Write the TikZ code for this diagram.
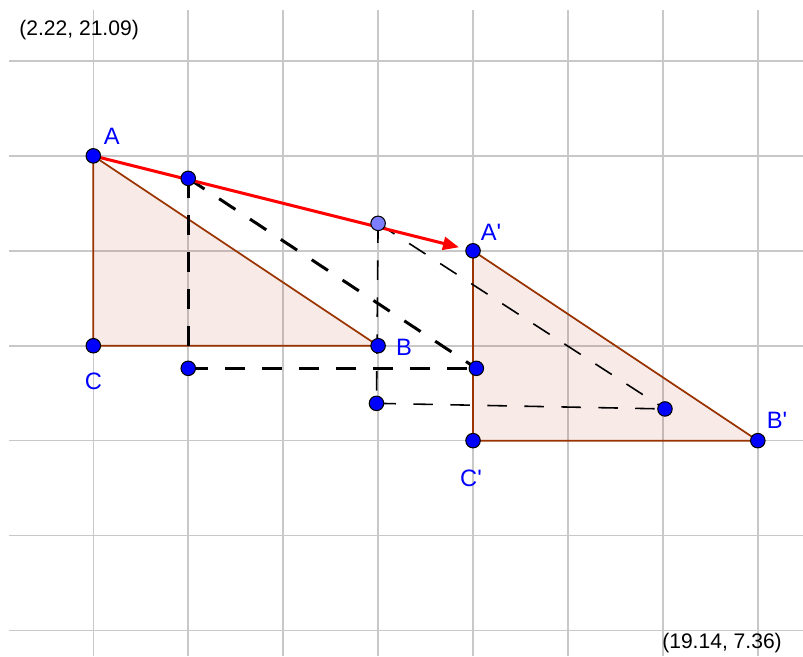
\documentclass[tikz,border=0pt]{standalone}
\usepackage{fontspec}
\setmainfont{Liberation Sans}
\usetikzlibrary{arrows.meta}
\definecolor{gridgray}{RGB}{200,200,200}
\definecolor{ggbbrown}{RGB}{153,51,0}
\definecolor{polyfill}{RGB}{180,60,40}
\definecolor{ggbblue}{RGB}{0,0,255}
\definecolor{ggblilac}{RGB}{125,125,255}
\definecolor{vecred}{RGB}{255,0,0}

\begin{document}
\begin{tikzpicture}[x=1.9cm, y=1.9cm,
  pt/.style={circle, draw=black, line width=0.6pt, fill=ggbblue, inner sep=0pt, minimum size=0.29cm},
  lbl/.style={text=ggbblue, font=\fontsize{13.5}{16}\selectfont},
  tri/.style={draw=ggbbrown, line width=1pt, fill=polyfill, fill opacity=0.11},
  thickdash/.style={black, line width=1.7pt, dash pattern=on 0.39cm off 0.35cm},
  thindash/.style={black, line width=0.9pt, dash pattern=on 0.39cm off 0.35cm},
  vec/.style={vecred, line width=1.7pt, -{Triangle[length=0.32cm, width=0.26cm]}, shorten >=0.29cm},
  corner/.style={font=\fontsize{12}{14}\selectfont}]
\useasboundingbox (-0.983,-3.269) rectangle (7.476,3.642);

% Grid
\foreach \gx in {0,...,7}
  \draw[gridgray, line width=0.9pt] (\gx,-3.269) -- (\gx,3.536);
\foreach \gy in {-3,...,3}
  \draw[gridgray, line width=0.9pt] (-0.888,\gy) -- (7.476,\gy);

% Points
\coordinate (A) at (0,2);
\coordinate (B) at (3,0);
\coordinate (C) at (0,0);
\coordinate (Ap) at (4,1);
\coordinate (Bp) at (7,-1);
\coordinate (Cp) at (4,-1);
\coordinate (P1) at (1,1.763);
\coordinate (Q1) at (1,-0.238);
\coordinate (R1) at (4.035,-0.238);
\coordinate (P2) at (3,1.289);
\coordinate (Q2) at (2.983,-0.607);
\coordinate (R2) at (6.022,-0.666);

% Triangles
\draw[tri] (A) -- (B) -- (C) -- cycle;
\draw[tri] (Ap) -- (Bp) -- (Cp) -- cycle;

% Intermediate positions
\draw[thickdash] (P1) -- (Q1);
\draw[thickdash] (Q1) -- (R1);
\draw[thickdash] (P1) -- (R1);
\draw[thindash] (P2) -- (Q2);
\draw[thindash] (Q2) -- (R2);
\draw[thindash] (P2) -- (R2);

% Translation vector
\draw[vec] (A) -- (Ap);

\node[pt] (dotA) at (A) {};
\node[pt] (dotB) at (B) {};
\node[pt] (dotC) at (C) {};
\node[pt] (dotAp) at (Ap) {};
\node[pt] (dotBp) at (Bp) {};
\node[pt] (dotCp) at (Cp) {};
\node[pt] (dotP1) at (P1) {};
\node[pt] (dotQ1) at (Q1) {};
\node[pt] (dotR1) at (R1) {};
\node[pt, fill=ggblilac] (dotP2) at (P2) {};
\node[pt] (dotQ2) at (Q2) {};
\node[pt] (dotR2) at (R2) {};

% Labels
\node[lbl] (labA) at (0.194,2.203) {A};
\node[lbl] (labB) at (3.273,-0.014) {B};
\node[lbl] (labC) at (0.002,-0.377) {C};
\node[lbl] (labAp) at (4.189,1.198) {A\textquotesingle};
\node[lbl] (labBp) at (7.202,-0.790) {B\textquotesingle};
\node[lbl] (labCp) at (3.979,-1.394) {C\textquotesingle};

\node[corner] (topleft) at (-0.150,3.326) {(2.22, 21.09)};
\node[corner] (botright) at (6.623,-3.132) {(19.14, 7.36)};
\end{tikzpicture}
\end{document}
